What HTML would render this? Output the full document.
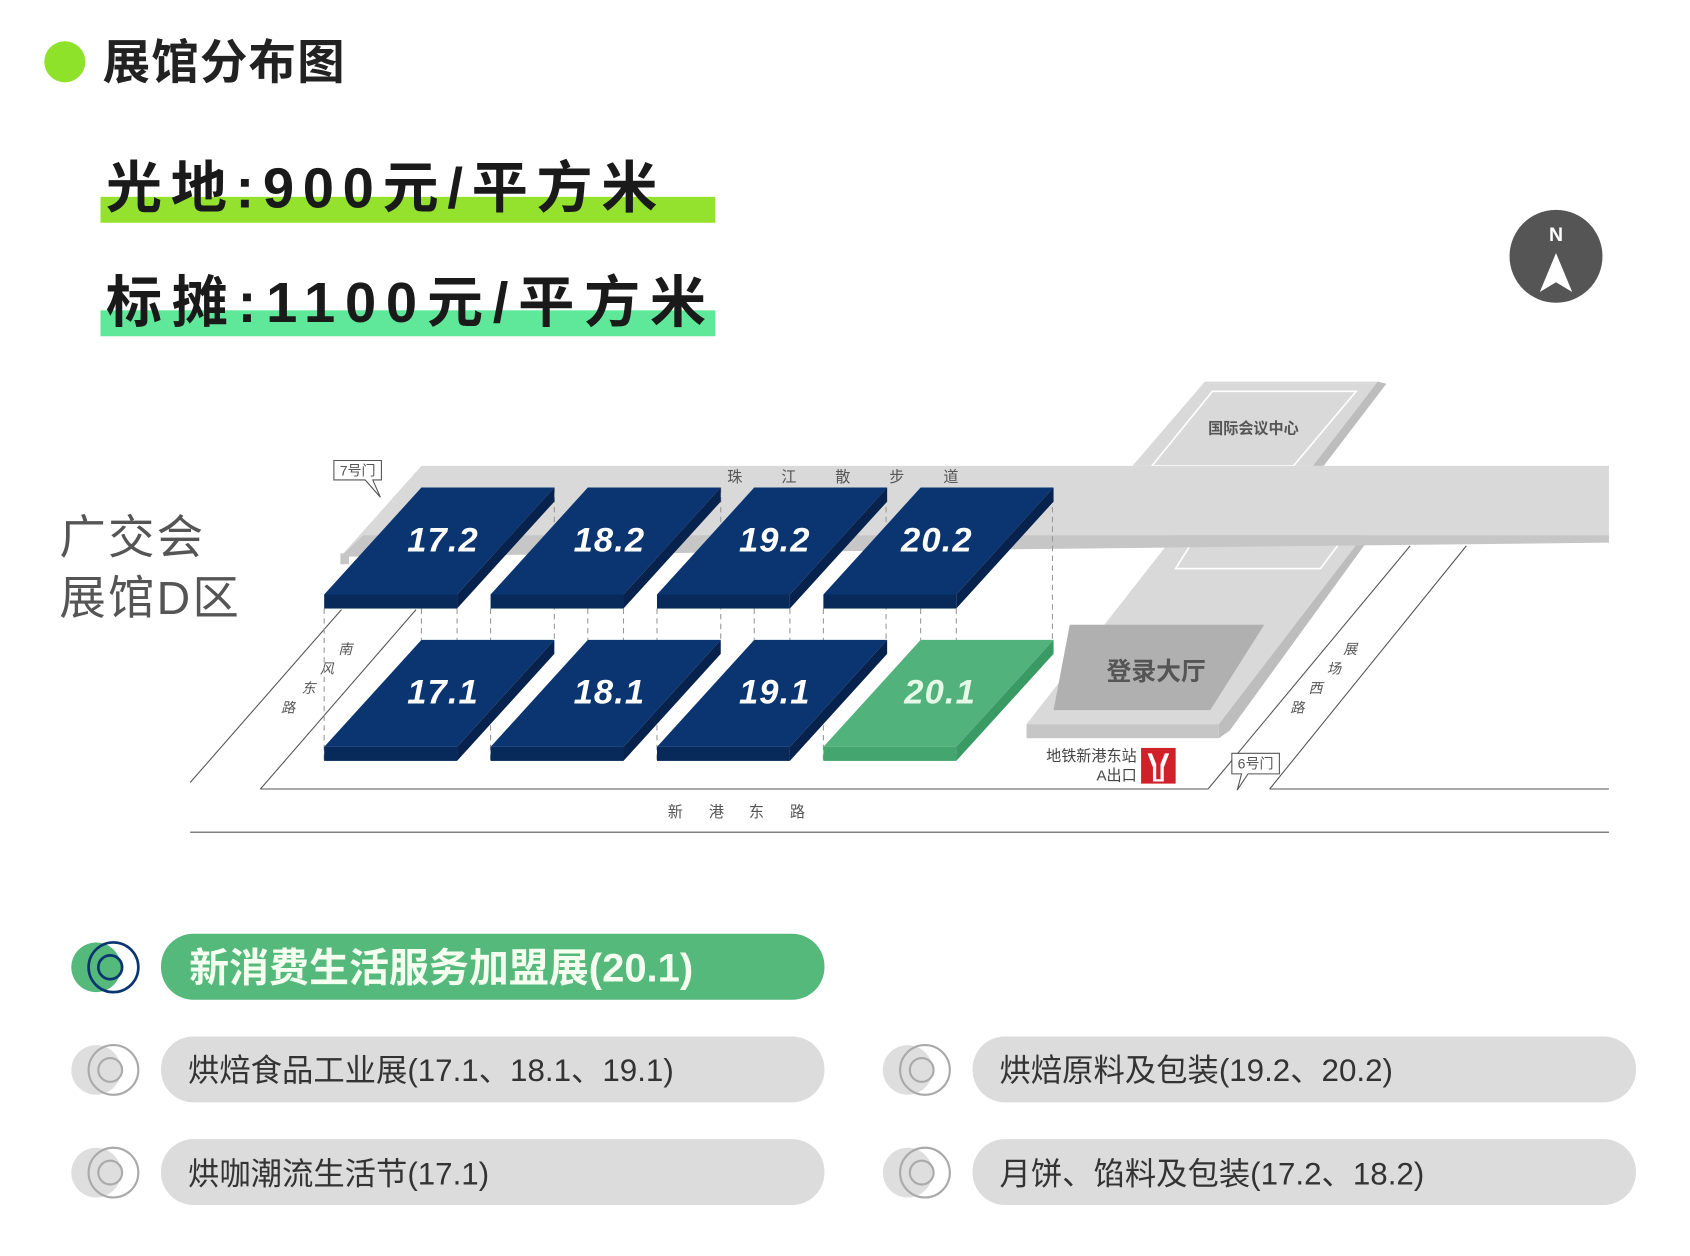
<!DOCTYPE html>
<html><head><meta charset="utf-8"><style>
html,body{margin:0;padding:0;background:#fff}
svg{display:block}
text{font-family:"Liberation Sans","Noto Sans CJK SC",sans-serif}
</style></head><body>
<svg width="1690" height="1256" viewBox="0 0 1564 1162" xmlns="http://www.w3.org/2000/svg">
<rect width="1564" height="1162" fill="#fff"/>
<!-- title -->
<circle cx="60" cy="57" r="19" fill="#8fe22a"/>
<text x="95" y="73" font-size="44" font-weight="bold" fill="#222" letter-spacing="1">展馆分布图</text>
<rect x="93" y="182" width="569" height="24" fill="#94e22e"/>
<text x="98" y="192" font-size="52" font-weight="bold" fill="#1a1a1a" letter-spacing="8">光地:900元/平方米</text>
<rect x="93" y="287" width="569" height="24" fill="#5fe89a"/>
<text x="98" y="298" font-size="52" font-weight="bold" fill="#1a1a1a" letter-spacing="9">标摊:1100元/平方米</text>
<!-- compass -->
<circle cx="1440" cy="237" r="43" fill="#555"/>
<text x="1440" y="223" font-size="18" font-weight="bold" fill="#fff" text-anchor="middle">N</text>
<polygon points="1440,234 1455,270 1440,261 1425,270" fill="#fff"/>
<!-- left label -->
<text x="55" y="512" font-size="43" fill="#555" letter-spacing="2">广交会</text>
<text x="55" y="568" font-size="43" fill="#555" letter-spacing="2">展馆D区</text>
<!-- conference center -->
<polygon points="1115,353 1275,353 1215,431 1048,431" fill="#d9d9d9"/>
<polygon points="1275,353 1283,355 1225,431 1215,431" fill="#bdbdbd"/>
<polygon points="1122,362 1255,362 1197,431 1066,431" fill="none" stroke="#fff" stroke-width="1.5"/>
<text x="1160" y="401" font-size="14" font-weight="bold" fill="#555" text-anchor="middle">国际会议中心</text>
<!-- registration slab -->
<polygon points="1087,495 1262,495 1128,670 950,670" fill="#d9d9d9"/>
<polygon points="1262,495 1268,497 1138,676 1128,683 1128,670" fill="#bdbdbd"/>
<rect x="950" y="670" width="178" height="13" fill="#c6c6c6"/>
<polygon points="1103,502 1240,502 1222,526 1088,526" fill="none" stroke="#fff" stroke-width="1.5"/>
<polygon points="990,578 1170,578 1120,657 975,657" fill="#b0b0b0"/>
<text x="1070" y="629" font-size="23" font-weight="bold" fill="#555" text-anchor="middle">登录大厅</text>
<!-- promenade road -->
<polygon points="390,431 1489,431 1489,495 336,495 315,515" fill="#d9d9d9"/>
<polygon points="315,515 336,495 1489,495 1489,502 322,515" fill="#c6c6c6"/>
<rect x="315" y="512" width="8" height="10" fill="#c6c6c6"/>
<text font-size="14" fill="#555"><tspan x="673" y="446">珠</tspan><tspan x="723" y="446">江</tspan><tspan x="773" y="446">散</tspan><tspan x="823" y="446">步</tspan><tspan x="873" y="446">道</tspan></text>
<!-- roads -->
<g stroke="#555" stroke-width="1" fill="none">
<line x1="176" y1="724" x2="316" y2="564"/>
<line x1="241" y1="730" x2="385" y2="564"/>
<line x1="241" y1="730" x2="1118" y2="730"/>
<line x1="1118" y1="730" x2="1305" y2="505"/>
<line x1="1175" y1="730" x2="1357" y2="505"/>
<line x1="1175" y1="730" x2="1489" y2="730"/>
<line x1="176" y1="770" x2="1489" y2="770"/>
</g>
<text font-size="14" fill="#555"><tspan x="618" y="756">新</tspan><tspan x="656" y="756">港</tspan><tspan x="693" y="756">东</tspan><tspan x="731" y="756">路</tspan></text>
<g font-size="13" fill="#555" font-style="italic">
<text x="313" y="605">南</text><text x="296" y="623">风</text><text x="279" y="641">东</text><text x="260" y="659">路</text>
<text x="1243" y="605">展</text><text x="1228" y="623">场</text><text x="1211" y="641">西</text><text x="1194" y="659">路</text>
</g>
<!-- dashed verticals -->
<g stroke="#999" stroke-width="1" stroke-dasharray="5,4">
<line x1="300" y1="563" x2="300" y2="703"/><line x1="423" y1="563" x2="423" y2="703"/>
<line x1="390" y1="563" x2="390" y2="592"/><line x1="513" y1="451" x2="513" y2="592"/>
<line x1="454" y1="563" x2="454" y2="703"/><line x1="577" y1="563" x2="577" y2="703"/>
<line x1="544" y1="563" x2="544" y2="592"/><line x1="667" y1="451" x2="667" y2="592"/>
<line x1="608" y1="563" x2="608" y2="703"/><line x1="731" y1="563" x2="731" y2="703"/>
<line x1="698" y1="563" x2="698" y2="592"/><line x1="820" y1="451" x2="820" y2="592"/>
<line x1="762" y1="563" x2="762" y2="703"/><line x1="885" y1="563" x2="885" y2="703"/>
<line x1="852" y1="563" x2="852" y2="592"/><line x1="974" y1="451" x2="974" y2="592"/>
</g>
<!-- blocks -->
<defs>
<g id="nb">
<polygon points="90,0 213,0 123,99 0,99" fill="#0b3570"/>
<polygon points="213,0 213,13 123,112 123,99" fill="#06224d"/>
<rect x="0" y="99" width="123" height="13" fill="#072a5a"/>
</g>
<g id="gb">
<polygon points="90,0 213,0 123,99 0,99" fill="#52b27c"/>
<polygon points="213,0 213,13 123,112 123,99" fill="#3a9a64"/>
<rect x="0" y="99" width="123" height="13" fill="#45a56f"/>
</g>
</defs>
<use href="#nb" x="300" y="451"/><use href="#nb" x="454" y="451"/><use href="#nb" x="608" y="451"/><use href="#nb" x="762" y="451"/>
<use href="#nb" x="300" y="592"/><use href="#nb" x="454" y="592"/><use href="#nb" x="608" y="592"/><use href="#gb" x="762" y="592"/>
<g font-size="32" font-weight="bold" font-style="italic" fill="#fff" text-anchor="middle" letter-spacing="1">
<text x="410" y="510">17.2</text><text x="564" y="510">18.2</text><text x="717" y="510">19.2</text><text x="867" y="510">20.2</text>
<text x="410" y="651">17.1</text><text x="564" y="651">18.1</text><text x="717" y="651">19.1</text><text x="870" y="651" fill="#e6f8e6">20.1</text>
</g>
<!-- gates -->
<g fill="#fff" stroke="#555" stroke-width="1">
<path d="M309,426 H353 V444 H345 L352,460 L338,444 H309 Z"/>
<path d="M1140,697 H1184 V716 H1155 L1145,731 L1149,716 H1140 Z"/>
</g>
<text x="331" y="440" font-size="13" fill="#555" text-anchor="middle">7号门</text>
<text x="1162" y="711" font-size="13" fill="#555" text-anchor="middle">6号门</text>
<!-- metro -->
<text x="1052" y="704" font-size="14" fill="#444" text-anchor="end">地铁新港东站</text>
<text x="1052" y="722" font-size="14" fill="#444" text-anchor="end">A出口</text>
<rect x="1056" y="692" width="32" height="33" fill="#d0202a"/>
<path d="M1062,697 L1066,697 L1070,707 L1070,721 L1074,721 L1074,707 L1078,697 L1082,697 L1077,710 L1077,723 L1067,723 L1067,710 Z" fill="#fff"/>
<!-- legend -->
<rect x="149" y="864" width="614" height="61" rx="30" fill="#55b97c"/>
<text x="175" y="908" font-size="37" font-weight="bold" fill="#f4fff0">新消费生活服务加盟展(20.1)</text>
<circle cx="89" cy="895" r="23" fill="#55b97c"/>
<circle cx="105" cy="895" r="23" fill="none" stroke="#0b3570" stroke-width="2.5"/>
<circle cx="102" cy="895" r="11" fill="none" stroke="#0b3570" stroke-width="2.5"/>
<g>
<rect x="149" y="959" width="614" height="61" rx="30" fill="#dcdcdc"/>
<rect x="900" y="959" width="614" height="61" rx="30" fill="#dcdcdc"/>
<rect x="149" y="1054" width="614" height="61" rx="30" fill="#dcdcdc"/>
<rect x="900" y="1054" width="614" height="61" rx="30" fill="#dcdcdc"/>
</g>
<g font-size="29" fill="#333">
<text x="174" y="1000">烘焙食品工业展(17.1、18.1、19.1)</text>
<text x="925" y="1000">烘焙原料及包装(19.2、20.2)</text>
<text x="174" y="1096">烘咖潮流生活节(17.1)</text>
<text x="925" y="1096">月饼、馅料及包装(17.2、18.2)</text>
</g>
<defs>
<g id="gi">
<circle cx="-16" cy="0" r="23" fill="#dedede"/>
<circle cx="0" cy="0" r="23" fill="none" stroke="#aaa" stroke-width="2"/>
<circle cx="-3" cy="0" r="11" fill="none" stroke="#aaa" stroke-width="2"/>
</g>
</defs>
<use href="#gi" x="105" y="990"/><use href="#gi" x="856" y="990"/>
<use href="#gi" x="105" y="1085"/><use href="#gi" x="856" y="1085"/>
</svg>
</body></html>
